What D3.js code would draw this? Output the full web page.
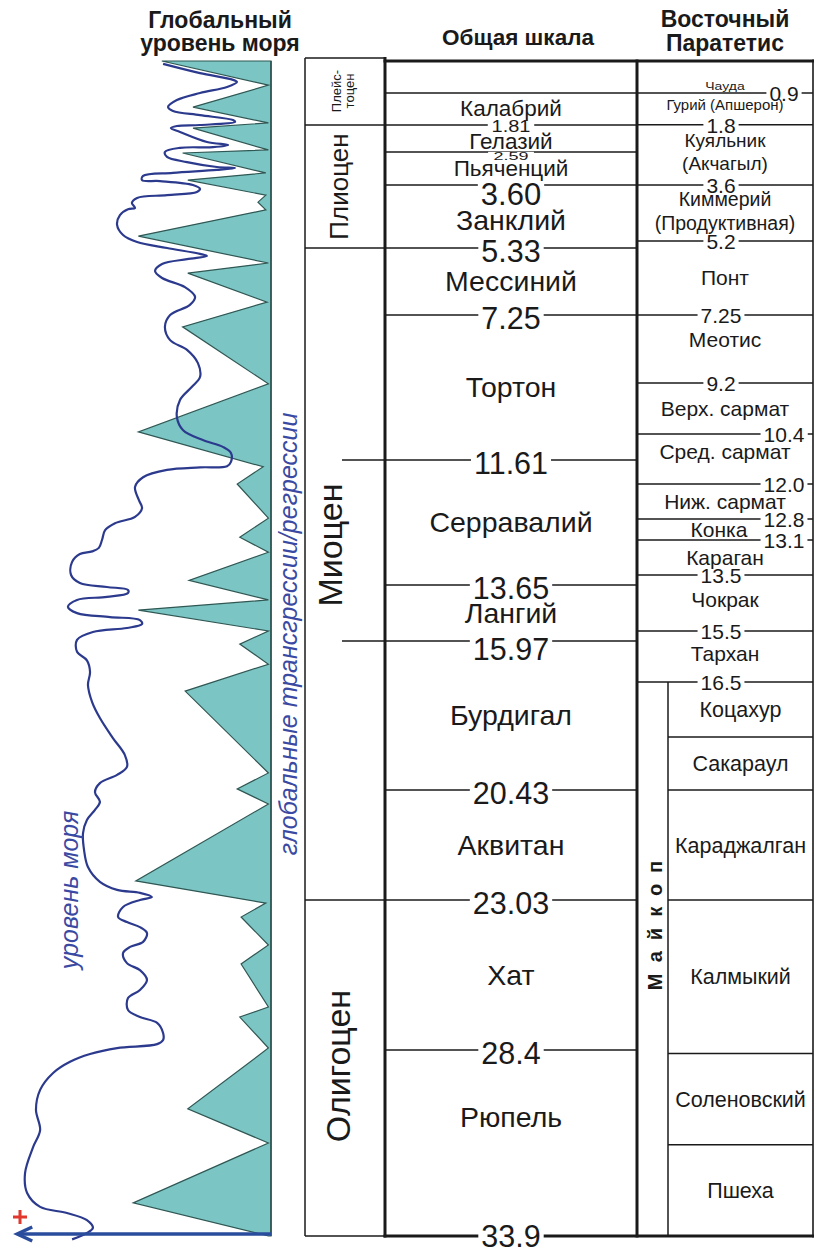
<!DOCTYPE html>
<html>
<head>
<meta charset="utf-8">
<script src="https://cdn.jsdelivr.net/npm/d3@7/dist/d3.min.js"></script>
<style>
  body { margin: 0; background: #fff; }
  svg { display: block; }
  text { font-family: Arial, "Liberation Sans", Helvetica, sans-serif; }
</style>
</head>
<body>
<svg id="chart" width="815" height="1252"></svg>
<script>
// ---------------- data ----------------
// Epochs (ages in Ma)
const epochNames = ["Плейс-|тоцен", "Плиоцен", "Миоцен", "Олигоцен"];
const epochBounds = [0, 1.81, 5.33, 23.03, 33.9];
const subEpochBounds = [11.61, 15.97];

// General (international) scale: stages and their boundaries
const stageNames = ["", "Калабрий", "Гелазий", "Пьяченций", "Занклий", "Мессиний", "Тортон",
  "Серравалий", "Лангий", "Бурдигал", "Аквитан", "Хат", "Рюпель"];
const stageBounds = [0, 0.9, 1.81, 2.59, 3.60, 5.33, 7.25, 11.61, 13.65, 15.97, 20.43, 23.03, 28.4, 33.9];
const stageBoundLabels = ["", "", "1.81", "2.59", "3.60", "5.33", "7.25", "11.61", "13.65", "15.97",
  "20.43", "23.03", "28.4", "33.9"];

// Eastern Paratethys regional stages
const paraNames = ["Чауда", "Гурий (Апшерон)", "Куяльник|(Акчагыл)", "Киммерий|(Продуктивная)", "Понт",
  "Меотис", "Верх. сармат", "Сред. сармат", "Ниж. сармат", "Конка", "Караган", "Чокрак", "Тархан"];
const paraBounds = [0, 0.9, 1.8, 3.6, 5.2, 7.25, 9.2, 10.4, 12.0, 12.8, 13.1, 13.5, 15.5, 16.5];
const paraBoundLabels = ["", "0.9", "1.8", "3.6", "5.2", "7.25", "9.2", "10.4", "12.0", "12.8", "13.1",
  "13.5", "15.5", "16.5"];

// Maikop series subdivisions
const maikopTitle = "Майкоп";
const maikopNames = ["Коцахур", "Сакараул", "Караджалган", "Калмыкий", "Соленовский", "Пшеха"];
const maikopBounds = [16.5, 18.5, 20.43, 23.03, 28.5, 31.2, 33.9];

// Global transgression / regression cycles (age, relative amplitude)
const cycleAges = [0, 0.68, 1.30, 1.75, 1.90, 2.53, 2.62, 3.23, 3.45, 3.89, 4.09, 4.31, 5.06, 5.76, 6.05,
  6.88, 7.59, 9.22, 10.35, 11.72, 12.0, 12.78, 13.06, 13.24, 13.58, 14.25, 14.66, 15.5, 16.01, 16.27,
  16.83, 19.81, 20.39, 20.76, 22.58, 23.14, 23.64, 24.64, 25.32, 26.86, 27.22, 28.33, 30.14, 31.15,
  32.92, 33.9];
const cycleAmp = [42, 1, 30, 1, 30, 1, 34, 2, 32, 2, 5, 2, 51, 1, 32, 1.5, 34, 1, 51, 3, 13, 1, 12, 1,
  31.5, 1, 51, 1, 12, 1, 33, 1, 13, 1, 52, 2, 11.5, 1, 11.5, 1, 12, 1, 32, 1, 53, 1];

// Global sea level curve (age, relative level)
const seaAges = [0.08, 0.34, 0.53, 0.59, 0.73, 0.9, 1.10, 1.30, 1.41, 1.53,
  1.67, 1.72, 1.81, 1.84, 1.90, 2.01, 2.30, 2.39, 2.45, 2.47,
  2.59, 2.74, 2.90, 3.05, 3.08, 3.14, 3.23, 3.32, 3.45, 3.48,
  3.6, 3.71, 3.80, 3.89, 3.97, 4.11, 4.26, 4.29, 4.46, 4.74,
  5.03, 5.22, 5.33, 5.50, 5.56, 5.65, 5.79, 5.99, 6.19, 6.45,
  6.73, 6.96, 7.25, 7.59, 7.97, 8.25, 8.63, 9.03, 9.29, 9.60,
  10.0, 10.31, 10.68, 11.0, 11.28, 11.64, 11.71, 11.73, 11.77, 11.89,
  12.07, 12.37, 12.55, 12.75, 12.86, 12.96, 13.1, 13.19, 13.23, 13.26,
  13.35, 13.5, 13.62, 13.73, 13.85, 13.97, 14.13, 14.25, 14.53, 14.78,
  14.94, 15.06, 15.22, 15.38, 15.55, 15.92, 16.11, 16.22, 16.37, 16.61,
  17.23, 17.81, 18.54, 19.16, 19.59, 19.88, 20.18, 20.48, 20.71, 20.90,
  21.14, 21.45, 21.85, 22.25, 22.60, 22.79, 22.86, 22.96, 23.03, 23.28,
  23.64, 23.82, 24.0, 24.21, 24.53, 24.71, 24.93, 25.29, 25.54, 25.89,
  26.25, 26.54, 26.97, 27.22, 27.43, 27.79, 28.04, 28.19, 28.33, 28.52,
  28.75, 29.08, 29.58, 30.17, 30.77, 31.27, 32.04, 32.63, 33.04, 33.22,
  33.43, 33.66, 33.81, 34.0];
const seaLevel = [41.5, 27.3, 14.6, 13.1, 16.9, 27.3, 36.2, 39.6, 37.7, 27.3,
  14.6, 13.8, 27.3, 36.2, 38.5, 35.0, 24.6, 16.5, 22.3, 35.0,
  40.8, 40.0, 32.3, 20.8, 13.8, 20.8, 37.7, 49.2, 49.6, 42.7,
  30.0, 27.3, 28.5, 40.0, 51.5, 53.5, 52.3, 55.0, 58.1, 59.2,
  56.9, 51.5, 40.0, 27.3, 24.6, 32.3, 41.9, 44.6, 41.9, 33.1,
  29.2, 31.2, 38.8, 40.8, 38.8, 32.3, 28.1, 27.3, 30.4, 35.0,
  36.2, 33.8, 26.2, 18.5, 15.4, 15.4, 16.9, 27.3, 40.0, 49.2,
  52.3, 50.8, 49.6, 52.3, 60.0, 63.8, 65.0, 66.2, 68.8, 73.5,
  76.5, 76.9, 73.5, 63.1, 55.0, 55.0, 63.1, 74.6, 78.1, 74.6,
  61.9, 50.4, 49.6, 55.4, 68.5, 74.6, 74.6, 70.8, 69.6, 70.4,
  68.8, 65.8, 60.8, 56.2, 55.4, 59.2, 65.8, 67.7, 65.8, 67.7,
  70.8, 72.3, 71.9, 70.4, 65.8, 59.2, 50.4, 45.8, 50.4, 56.9,
  58.8, 55.4, 50.4, 47.7, 49.2, 54.2, 56.9, 55.4, 50.4, 47.7,
  50.4, 55.0, 55.0, 50.4, 43.8, 41.5, 41.5, 43.8, 59.2, 69.6,
  77.3, 83.8, 88.8, 90.4, 88.8, 91.5, 94.6, 93.8, 88.8, 78.5,
  70.8, 68.5, 70.8, 76.5];

// ---------------- layout ----------------
const svg = d3.select("#chart");
const INK = "#1a1a1a";

// Schematic (non-uniform) time axis: knots of the piecewise-linear age scale
const ageKnots = [0, 0.9, 1.81, 2.59, 3.6, 5.2, 5.33, 7.25, 9.2, 10.4, 11.61, 12.0, 12.8, 13.1, 13.5,
  13.65, 15.5, 15.97, 16.5, 20.43, 23.03, 28.4, 33.9];
const yKnots = [61, 93, 125, 152, 185, 241, 248, 315, 383, 434, 460, 484, 519, 540, 575,
  585, 631, 641, 682, 790, 900, 1050, 1236];
const y = d3.scaleLinear().domain(ageKnots).range(yKnots);

// Left panel: relative amplitude grows to the left of the baseline
const amp = d3.scaleLinear().domain([0, 100]).range([271, 11]);

const X = { epochL: 305, epochR: 385, mainR: 637, paraR: 813, maikopR: 668, subEpochL: 342 };
const mainCx = (X.epochR + X.mainR) / 2;
const paraCx = 721;
const paraRightX = 784;
const maikopCx = (X.maikopR + X.paraR) / 2;
const AGE_MAX = stageBounds[stageBounds.length - 1];

const gLeft = svg.append("g");
const gLines = svg.append("g");
const gGap = svg.append("g");
const gText = svg.append("g");

function addText(parent, x, yy, str, o = {}) {
  const size = o.size || 20;
  let tr = `translate(${x},${yy})`;
  if (o.rotate) tr += ` rotate(${o.rotate})`;
  if (o.sx) tr += ` scale(${o.sx},1)`;
  return parent.append("text")
    .attr("transform", tr)
    .attr("text-anchor", o.anchor || "middle")
    .attr("dy", o.dy !== undefined ? o.dy : "0.35em")
    .style("font-size", size + "px")
    .style("font-weight", o.weight || "normal")
    .style("font-style", o.italic ? "italic" : "normal")
    .style("letter-spacing", o.ls ? o.ls + "px" : null)
    .style("fill", o.fill || INK)
    .text(str);
}

// label sitting on a line, with the line broken behind it
function gapLabel(x, yy, str, size, sx) {
  const t = addText(gText, x, yy, str, { size, sx });
  const b = t.node().getBBox();
  gGap.append("rect")
    .attr("transform", `translate(${x},${yy})` + (sx ? ` scale(${sx},1)` : ""))
    .attr("x", b.x - 3).attr("width", b.width + 6)
    .attr("y", -size * 0.42).attr("height", size * 0.84)
    .attr("fill", "#fff");
}

function multiLine(parent, x, yc, str, size, lineGap) {
  const parts = str.split("|");
  parts.forEach((p, k) => {
    addText(parent, x, yc + (k - (parts.length - 1) / 2) * lineGap, p, { size });
  });
}

function hline(x1, x2, yy, w) {
  gLines.append("line").attr("x1", x1).attr("x2", x2).attr("y1", yy).attr("y2", yy)
    .attr("stroke", INK).attr("stroke-width", w || 1.5);
}
function vline(x, y1, y2, w) {
  gLines.append("line").attr("x1", x).attr("x2", x).attr("y1", y1).attr("y2", y2)
    .attr("stroke", INK).attr("stroke-width", w || 1.5);
}

// ---------------- headers ----------------
addText(gText, 220, 28, "Глобальный", { size: 23, weight: "bold", dy: 0 });
addText(gText, 220, 51, "уровень моря", { size: 23, weight: "bold", dy: 0 });
addText(gText, 518, 45, "Общая шкала", { size: 22.5, weight: "bold", dy: 0 });
addText(gText, 725, 27, "Восточный", { size: 23, weight: "bold", dy: 0 });
addText(gText, 725, 51, "Паратетис", { size: 23, weight: "bold", dy: 0 });

// ---------------- left panel: cycles and sea level ----------------
const cyclePts = cycleAges.map((a, i) => [amp(cycleAmp[i]), y(a)]);
const poly = [...cyclePts, [amp(0), y(AGE_MAX)], [amp(0), y(0)]];
gLeft.append("path")
  .attr("d", "M" + poly.map(p => p.join(",")).join("L") + "Z")
  .attr("fill", "#7bc6c4").attr("stroke", "#2f5753").attr("stroke-width", 1.2)
  .attr("stroke-linejoin", "miter");
gLeft.append("line").attr("x1", amp(0)).attr("x2", amp(0)).attr("y1", y(0)).attr("y2", y(AGE_MAX))
  .attr("stroke", "#2f5753").attr("stroke-width", 1.6);

const seaLine = d3.line()
  .x((d, i) => amp(seaLevel[i]))
  .y(d => y(d))
  .curve(d3.curveCatmullRom.alpha(0.5));
gLeft.append("path").attr("d", seaLine(seaAges))
  .attr("fill", "none").attr("stroke", "#2c3a8e").attr("stroke-width", 2.2)
  .attr("stroke-linejoin", "round");

// time arrow along the base
const arrowY = y(AGE_MAX) - 2;
const tipX = amp(97.6);
gLeft.append("line").attr("x1", amp(0)).attr("x2", tipX + 2).attr("y1", arrowY).attr("y2", arrowY)
  .attr("stroke", "#2a4c9c").attr("stroke-width", 3.5);
gLeft.append("path")
  .attr("d", `M${tipX + 15},${arrowY - 7}L${tipX},${arrowY}L${tipX + 15},${arrowY + 7}`)
  .attr("fill", "none").attr("stroke", "#2a4c9c").attr("stroke-width", 3.5);

// "+" marker
const plusX = 20, plusY = 1217;
gLeft.append("path").attr("d", `M${plusX - 7},${plusY}H${plusX + 7}M${plusX},${plusY - 7}V${plusY + 7}`)
  .attr("stroke", "#e0382c").attr("stroke-width", 3);

addText(gLeft, 297, 634, "глобальные трансгрессии/регрессии",
  { size: 25, italic: true, rotate: -90, dy: 0, fill: "#3a4aa2" });
addText(gLeft, 78, 890, "уровень моря",
  { size: 25, italic: true, rotate: -90, dy: 0, fill: "#3a4aa2" });

// ---------------- epoch column ----------------
vline(X.epochL, y(0) - 3, y(AGE_MAX));
epochBounds.forEach((b, i) => hline(X.epochL, X.epochR, i === 0 ? y(b) - 3 : y(b)));
subEpochBounds.forEach(b => hline(X.subEpochL, X.epochR, y(b)));

const epochStyle = [
  null,
  { x: 339, size: 26 },
  { x: 330, size: 34, yc: 545 },
  { x: 338, size: 34, yc: 1066 }
];
epochNames.forEach((name, i) => {
  const yc = (y(epochBounds[i]) + y(epochBounds[i + 1])) / 2;
  if (i === 0) {
    const parts = name.split("|");
    addText(gText, 341, 91, parts[0], { size: 13, rotate: -90, dy: 0 });
    addText(gText, 354, 91, parts[1], { size: 13, rotate: -90, dy: 0 });
  } else {
    const s = epochStyle[i];
    addText(gText, s.x, s.yc || yc, name, { size: s.size, rotate: -90 });
  }
});

// ---------------- general scale column ----------------
stageBounds.slice(1, -1).forEach(b => hline(X.epochR, X.mainR, y(b)));

const boundStyle = { "1.81": { size: 16, sx: 1.25, dy: 1 }, "2.59": { size: 10, sx: 1.8, dy: 4 },
  "3.60": { size: 31, dy: 9 }, "15.97": { dy: 8 }, "33.9": { dy: 0 } };
stageBoundLabels.forEach((lab, i) => {
  if (!lab) return;
  const st = boundStyle[lab] || {};
  gapLabel(mainCx, y(stageBounds[i]) + (st.dy !== undefined ? st.dy : 3), lab, st.size || 30.5, st.sx);
});

const stageShift = { "Калабрий": -1, "Гелазий": 3, "Занклий": 4, "Рюпель": -26 };
stageNames.forEach((name, i) => {
  if (!name) return;
  const yc = (y(stageBounds[i]) + y(stageBounds[i + 1])) / 2 + (stageShift[name] || 0);
  addText(gText, mainCx, yc, name, { size: i <= 3 ? 22.5 : 28.5 });
});

// ---------------- Eastern Paratethys column ----------------
paraBounds.slice(1).forEach(b => hline(X.mainR, X.paraR, y(b)));
const paraRight = new Set(["0.9", "10.4", "12.0", "12.8", "13.1"]);
paraBoundLabels.forEach((lab, i) => {
  if (!lab) return;
  gapLabel(paraRight.has(lab) ? paraRightX : paraCx, y(paraBounds[i]) + 1, lab, 21);
});

const paraShift = { "Чауда": 9, "Гурий (Апшерон)": -4, "Куяльник|(Акчагыл)": -3, "Киммерий|(Продуктивная)": -2,
  "Меотис": -9, "Сред. сармат": -7, "Чокрак": -3, "Тархан": -3 };
const paraSize = { "Чауда": 10, "Гурий (Апшерон)": 15, "Куяльник|(Акчагыл)": 19, "Киммерий|(Продуктивная)": 19.5 };
paraNames.forEach((name, i) => {
  const yc = (y(paraBounds[i]) + y(paraBounds[i + 1])) / 2 + (paraShift[name] || 0);
  const size = paraSize[name] || 21;
  if (name.includes("|")) multiLine(gText, paraCx + 4, yc, name, size, name.startsWith("Куяль") ? 23 : 24);
  else addText(gText, name === "Конка" ? 719 : paraCx + 4, yc, name, { size, sx: name === "Чауда" ? 1.4 : undefined });
});

// Maikop block
vline(X.maikopR, y(maikopBounds[0]), y(AGE_MAX));
maikopBounds.slice(1, -1).forEach(b => hline(X.maikopR, X.paraR, y(b)));
maikopNames.forEach((name, i) => {
  const yc = (y(maikopBounds[i]) + y(maikopBounds[i + 1])) / 2;
  addText(gText, maikopCx, yc, name, { size: 21.5 });
});
addText(gText, 655, 920, maikopTitle, { size: 20, weight: "bold", rotate: -90, ls: 11 });

// ---------------- frame ----------------
vline(X.epochR, y(0) - 4, y(AGE_MAX) + 1.5, 3);
vline(X.mainR, y(0) - 1.5, y(AGE_MAX) + 1.5, 3);
vline(X.paraR, y(0) - 1.5, y(AGE_MAX) + 1.5, 1.6);
hline(X.epochR - 1.5, X.paraR + 1, y(0), 3);
hline(X.epochR - 1.5, X.paraR + 1, y(AGE_MAX), 3);
// keep the bottom label gap above the thick frame line
gGap.raise(); gText.raise();
</script>
</body>
</html>
